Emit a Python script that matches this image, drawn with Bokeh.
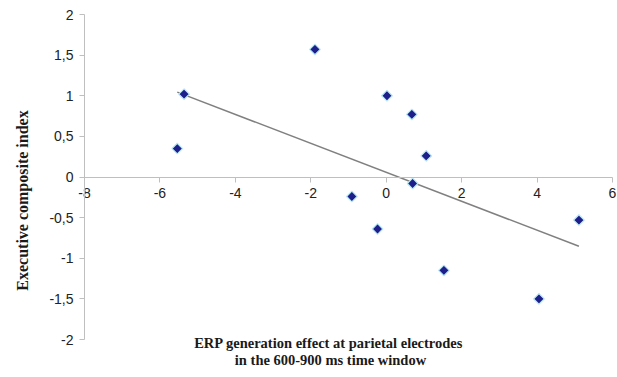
import numpy as np
from bokeh.plotting import figure
from bokeh.models import Range1d, FixedTicker, Label
from bokeh.embed import file_html
from bokeh.resources import INLINE

# Data
erp_effect = [-5.36, -5.54, -1.89, -0.91, -0.23, 0.02, 0.68, 0.70, 1.06, 1.53, 4.05, 5.11]
exec_index = [1.02, 0.35, 1.57, -0.24, -0.64, 1.00, 0.77, -0.08, 0.26, -1.15, -1.50, -0.53]

x_ticks = [-8, -6, -4, -2, 0, 2, 4, 6]
x_tick_labels = ["-8", "-6", "-4", "-2", "0", "2", "4", "6"]
y_ticks = [-2, -1.5, -1, -0.5, 0, 0.5, 1, 1.5, 2]
y_tick_labels = ["-2", "-1,5", "-1", "-0,5", "0", "0,5", "1", "1,5", "2"]

x_title_1 = "ERP generation effect  at parietal electrodes"
x_title_2 = "in the 600-900 ms time window"
y_title = "Executive composite index"

W, H = 617, 377
# pixel placement of the axes box inside the canvas
left_px, right_px, top_px, bottom_px = 84, 612, 14, 339
x0, x1 = x_ticks[0], x_ticks[-1]
y0, y1 = y_ticks[0], y_ticks[-1]
sx = (right_px - left_px) / (x1 - x0)
sy = (bottom_px - top_px) / (y1 - y0)
xr = Range1d(x0 - left_px / sx, x1 + (W - right_px) / sx)
yr = Range1d(y0 - (H - bottom_px) / sy, y1 + top_px / sy)

def px_to_x(px):
    return xr.start + px / sx

def px_to_y(py):
    return yr.end - py / sy

p = figure(width=W, height=H, output_backend="svg", toolbar_location=None,
           x_range=xr, y_range=yr, min_border=0)
p.outline_line_color = None
p.xgrid.visible = False
p.ygrid.visible = False
p.background_fill_color = "white"
p.border_fill_color = "white"

axis_color = "#bfbfbf"
tick_font = "Liberation Sans"

xa = p.xaxis[0]
xa.fixed_location = 0
xa.bounds = (x0, x1)
xa.ticker = FixedTicker(ticks=x_ticks)
xa.major_label_overrides = {t: s for t, s in zip(x_ticks, x_tick_labels)}
xa.minor_tick_line_color = None
xa.axis_line_color = axis_color
xa.major_tick_line_color = axis_color
xa.major_tick_in = 0
xa.major_tick_out = 5
xa.major_label_standoff = 6
xa.major_label_text_font = tick_font
xa.major_label_text_font_size = "14px"
xa.major_label_text_color = "#222222"

ya = p.yaxis[0]
ya.fixed_location = x0
ya.bounds = (y0, y1)
ya.ticker = FixedTicker(ticks=y_ticks)
ya.major_label_overrides = {t: s for t, s in zip(y_ticks, y_tick_labels)}
ya.minor_tick_line_color = None
ya.axis_line_color = axis_color
ya.major_tick_line_color = axis_color
ya.major_tick_in = 0
ya.major_tick_out = 5
ya.major_label_standoff = 6
ya.major_label_text_font = tick_font
ya.major_label_text_font_size = "14px"
ya.major_label_text_color = "#222222"

# trend line (least squares)
slope, intercept = np.polyfit(erp_effect, exec_index, 1)
xs = np.array([min(erp_effect), max(erp_effect)])
p.line(xs, slope * xs + intercept, line_color="#808080", line_width=1.5)

p.scatter(erp_effect, exec_index, marker="square", angle=np.pi / 4, size=7.5,
          fill_color="#1f1f8c", line_color="#b8e8f4", line_width=1.2)

title_font = "Liberation Serif"
p.add_layout(Label(x=px_to_x(22), y=px_to_y(200), text=y_title, angle=np.pi / 2,
                   text_align="center", text_baseline="middle",
                   text_font=title_font, text_font_style="bold",
                   text_font_size="16px", text_color="#1a1a1a"))
p.add_layout(Label(x=px_to_x(330), y=px_to_y(342), text=x_title_1,
                   text_align="center", text_baseline="alphabetic",
                   text_font=title_font, text_font_style="bold",
                   text_font_size="14.5px", text_color="#1a1a1a"))
p.add_layout(Label(x=px_to_x(330), y=px_to_y(359), text=x_title_2,
                   text_align="center", text_baseline="alphabetic",
                   text_font=title_font, text_font_style="bold",
                   text_font_size="14.5px", text_color="#1a1a1a"))

open("out.html", "w").write(file_html(p, INLINE))
